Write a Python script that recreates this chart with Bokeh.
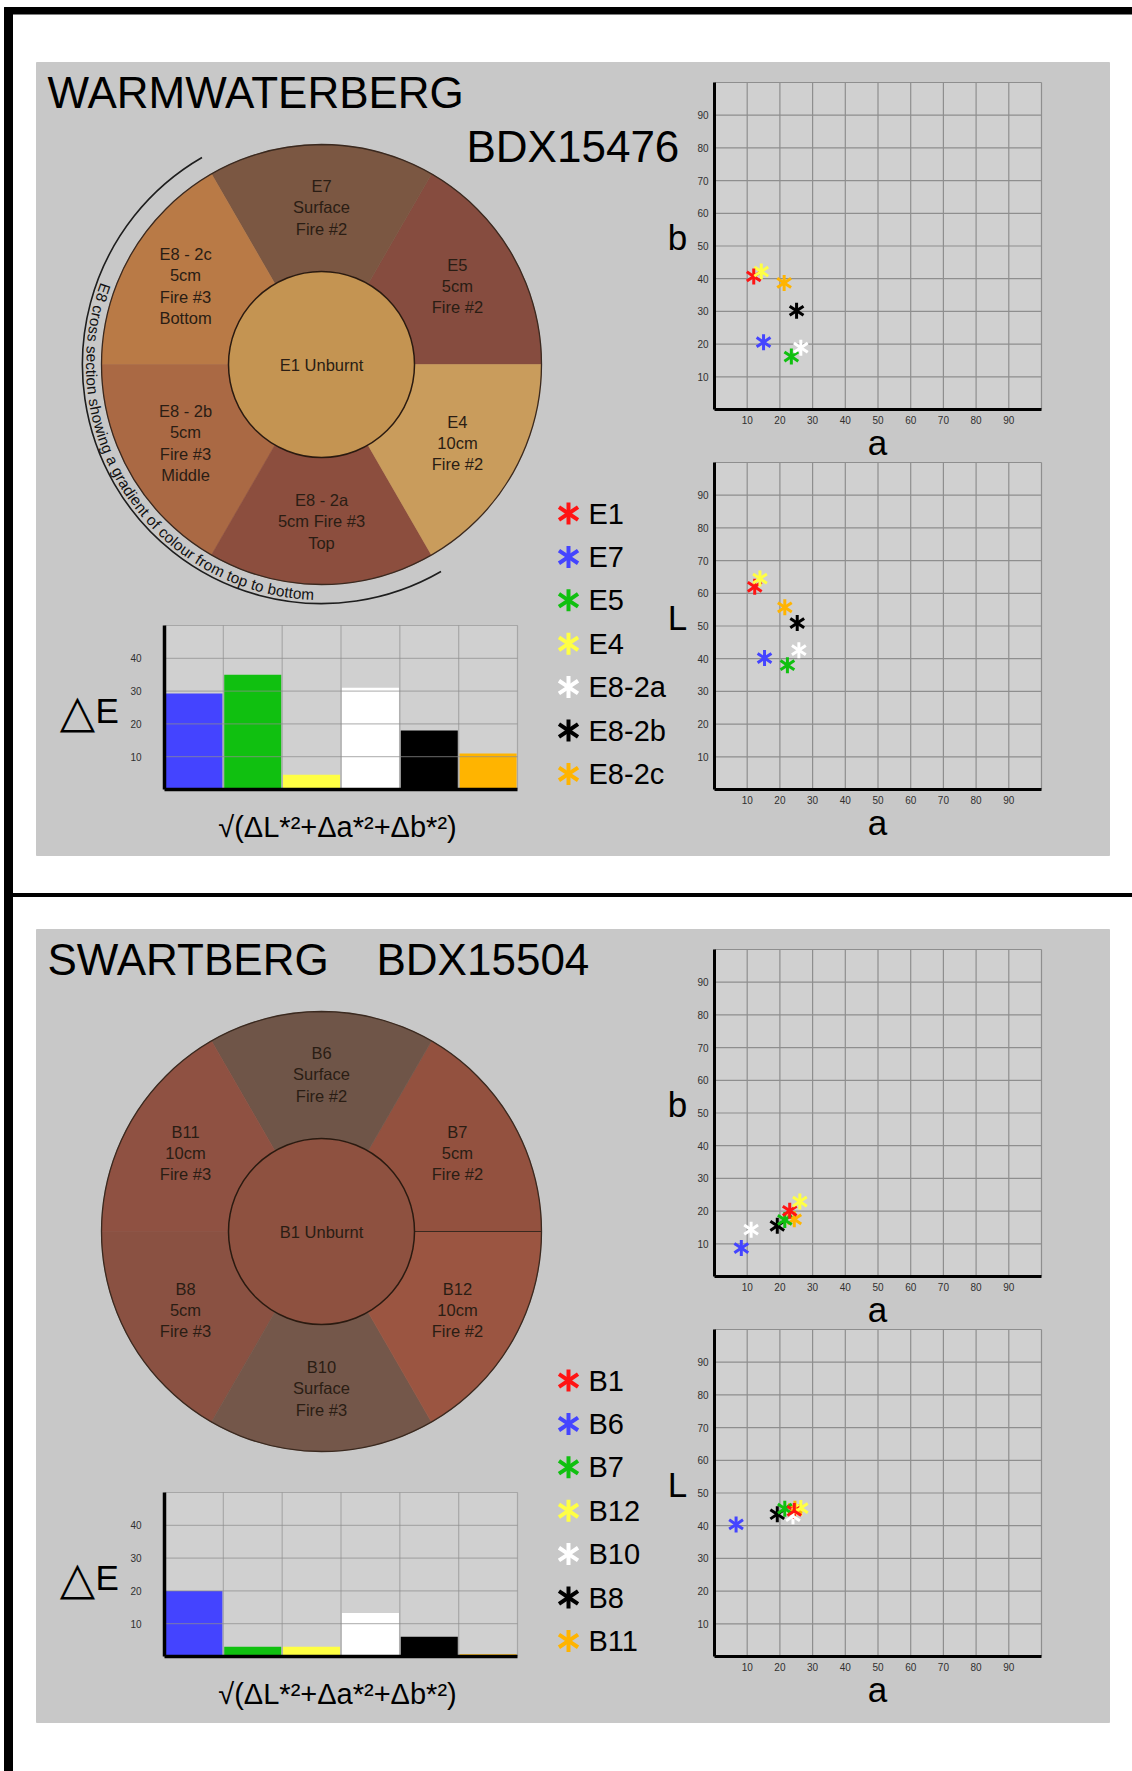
import math
from bokeh.plotting import figure
from bokeh.models import Range1d, LinearAxis, FixedTicker
from bokeh.embed import file_html
from bokeh.resources import INLINE
from bokeh.core.properties import value

# ---------------- data ----------------
panel_titles = ["WARMWATERBERG", "SWARTBERG"]
panel_codes = ["BDX15476", "BDX15504"]

top_samples = ["E1", "E7", "E5", "E4", "E8-2a", "E8-2b", "E8-2c"]
top_a_bplot = [12.0, 15.0, 23.5, 14.3, 26.4, 25.1, 21.3]
top_b = [40.7, 20.6, 16.2, 42.2, 18.9, 30.2, 38.7]
top_a_Lplot = [12.3, 15.3, 22.3, 13.9, 25.8, 25.3, 21.5]
top_L = [62.0, 40.2, 38.0, 64.5, 42.6, 50.9, 55.7]
top_dE = [29.3, 35.0, 4.5, 31.0, 18.0, 11.0]          # E7, E5, E4, E8-2a, E8-2b, E8-2c vs E1

bot_samples = ["B1", "B6", "B7", "B12", "B10", "B8", "B11"]
bot_a_bplot = [23.0, 8.2, 21.5, 26.1, 11.2, 19.2, 24.4]
bot_b = [20.1, 8.7, 17.3, 22.9, 14.3, 15.5, 17.5]
bot_a_Lplot = [24.4, 6.6, 21.5, 26.4, 24.0, 19.2, 24.6]
bot_L = [44.5, 40.4, 45.2, 45.4, 42.9, 43.5, 45.2]
bot_dE = [20.0, 3.0, 3.0, 13.3, 6.0, 0.7]             # B6, B7, B12, B10, B8, B11 vs B1

sample_colors = ["#ff1414", "#4444ff", "#10c010", "#ffff44", "#ffffff", "#000000", "#ffb400"]

# ring segments, counter-clockwise from 3 o'clock
top_ring_text = ["E5\n5cm\nFire #2", "E7\nSurface\nFire #2", "E8 - 2c\n5cm\nFire #3\nBottom",
                 "E8 - 2b\n5cm\nFire #3\nMiddle", "E8 - 2a\n5cm Fire #3\nTop", "E4\n10cm\nFire #2"]
top_ring_colors = ["#864c3f", "#7b5742", "#b97a46", "#aa6944", "#8c4e3e", "#c99c5c"]
top_center_text = "E1 Unburnt"
top_center_color = "#c49452"

bot_ring_text = ["B7\n5cm\nFire #2", "B6\nSurface\nFire #2", "B11\n10cm\nFire #3",
                 "B8\n5cm\nFire #3", "B10\nSurface\nFire #3", "B12\n10cm\nFire #2"]
bot_ring_colors = ["#93513f", "#6f5548", "#8f5142", "#8a5142", "#74574a", "#9b5541"]
bot_center_text = "B1 Unburnt"
bot_center_color = "#8e5140"

arc_caption = "E8 cross section showing a gradient of colour from top to bottom"
scatter_ticks = [10, 20, 30, 40, 50, 60, 70, 80, 90]
bar_ticks = [10, 20, 30, 40]
dE_label = "\u25B3"
formula_label = "\u221A(\u0394L*\u00B2+\u0394a*\u00B2+\u0394b*\u00B2)"

# ---------------- layout helpers ----------------
FONT_NAME = "Liberation Sans"
FONT = value(FONT_NAME)
REF_H = 1771
FX0, FX1 = 0, 1132
FY_TOP, FY_BOT = 0, 1771


def Y(yref):
    return REF_H - yref


def xr(px0, px1, v0, v1):
    k = (v1 - v0) / (px1 - px0)
    return Range1d(start=v0 - (px0 - FX0) * k, end=v1 + (FX1 - px1) * k)


def yr(py0, py1, v0, v1):
    k = (v1 - v0) / (py0 - py1)
    return Range1d(start=v0 - (FY_BOT - py0) * k, end=v1 + (py1 - FY_TOP) * k)


p = figure(width=FX1 - FX0, height=FY_BOT - FY_TOP,
           x_range=Range1d(FX0, FX1), y_range=Range1d(Y(FY_BOT), Y(FY_TOP)),
           x_axis_type=None, y_axis_type=None, toolbar_location=None,
           output_backend="svg", min_border=0, outline_line_color=None,
           background_fill_color="white", border_fill_color="white")

PANEL = "#c8c8c8"
PLOTBG = "#d0d0d0"
GRID = "#8e8e8e"

# page frame lines
p.quad(left=4, right=FX1, top=Y(7), bottom=Y(13.5), color="black")
p.quad(left=4, right=12, top=Y(7), bottom=Y(FY_BOT), color="black")
p.quad(left=4, right=FX1, top=Y(893), bottom=Y(896), color="black")


def asterisks(xs, ys, colors, size, lw, **kw):
    p.scatter(x=xs, y=ys, marker="y", size=size, line_color=colors, line_width=lw, **kw)
    p.scatter(x=xs, y=ys, marker="y", angle=math.pi, size=size, line_color=colors,
              line_width=lw, **kw)


def scatter_plot(name, py_bottom, py_top, xs, ys, order, label):
    nx, ny = name + "x", name + "y"
    p.extra_x_ranges[nx] = xr(714, 1041, 0, 100)
    p.extra_y_ranges[ny] = yr(py_bottom, py_top, 0, 100)
    kw = dict(x_range_name=nx, y_range_name=ny)
    p.quad(left=0, right=100, bottom=0, top=100, fill_color=PLOTBG, line_color=None, **kw)
    gl = scatter_ticks + [100]
    p.segment(x0=gl, y0=[0] * len(gl), x1=gl, y1=[100] * len(gl), line_color=GRID,
              line_width=1.2, **kw)
    p.segment(x0=[0] * len(gl), y0=gl, x1=[100] * len(gl), y1=gl, line_color=GRID,
              line_width=1.2, **kw)
    for side in ("left", "below"):
        ax = LinearAxis(fixed_location=0, bounds=(0, 100), ticker=FixedTicker(ticks=scatter_ticks),
                        axis_line_width=3, axis_line_color="black",
                        major_tick_in=0, major_tick_out=0, major_tick_line_color=None,
                        minor_tick_line_color=None, major_label_text_font=FONT_NAME,
                        major_label_text_font_size="10px", major_label_text_color="#303030",
                        major_label_standoff=6, **kw)
        p.add_layout(ax, side)
    asterisks([xs[i] for i in order], [ys[i] for i in order],
              [sample_colors[i] for i in order], 16, 3, **kw)
    # axis titles
    p.text(x=[877], y=[Y(py_bottom + 33)], text=["a"], text_font=FONT, text_font_size="35px",
           text_align="center", text_baseline="middle", text_color="black")
    p.text(x=[677], y=[Y((py_bottom + py_top) / 2 - 9)], text=[label], text_font=FONT,
           text_font_size="35px", text_align="center", text_baseline="middle",
           text_color="black")


def bar_plot(name, py_bottom, py_top, vals):
    nx, ny = name + "x", name + "y"
    p.extra_x_ranges[nx] = xr(164, 517, 0, 6)
    p.extra_y_ranges[ny] = yr(py_bottom, py_top, 0, 50)
    kw = dict(x_range_name=nx, y_range_name=ny)
    n = len(vals)
    p.quad(left=0, right=n, bottom=0, top=50, fill_color=PLOTBG, line_color=None, **kw)
    p.vbar(x=[i + 0.5 for i in range(n)], top=vals, width=0.97, bottom=0,
           fill_color=sample_colors[1:], line_color=None, **kw)
    hl = bar_ticks + [50]
    p.segment(x0=[0] * len(hl), y0=hl, x1=[n] * len(hl), y1=hl, line_color=GRID,
              line_alpha=0.6, line_width=1.2, **kw)
    vl = list(range(1, n + 1))
    p.segment(x0=vl, y0=[0] * n, x1=vl, y1=[50] * n, line_color=GRID, line_alpha=0.6,
              line_width=1.2, **kw)
    ay = LinearAxis(fixed_location=0, bounds=(0, 50), ticker=FixedTicker(ticks=bar_ticks),
                    axis_line_width=3.5, axis_line_color="black", major_tick_in=0,
                    major_tick_out=0, major_tick_line_color=None, minor_tick_line_color=None,
                    major_label_text_font=FONT_NAME, major_label_text_font_size="10px",
                    major_label_text_color="#303030", major_label_standoff=23, **kw)
    p.add_layout(ay, "left")
    ax = LinearAxis(fixed_location=0, bounds=(0, n), ticker=FixedTicker(ticks=[]),
                    axis_line_width=3.5, axis_line_color="black", major_tick_line_color=None,
                    minor_tick_line_color=None, major_label_text_font_size="0px", **kw)
    p.add_layout(ax, "below")
    # titles
    p.text(x=[77], y=[Y(py_bottom - 79)], text=[dE_label], text_font=value("DejaVu Sans"),
           text_font_size="46px", text_align="center", text_baseline="middle", text_color="black")
    p.text(x=[95], y=[Y(py_bottom - 79)], text=["E"], text_font=FONT, text_font_size="35px",
           text_align="left", text_baseline="middle", text_color="black")
    p.text(x=[337], y=[Y(py_bottom + 37)], text=[formula_label], text_font=FONT,
           text_font_size="29px", text_align="center", text_baseline="middle", text_color="black")


def ring(cy_ref, texts, colors, center_text, center_color, radial_line):
    cx, cy = 321, Y(cy_ref)
    R, r = 220, 93
    n = len(texts)
    starts = [2 * math.pi * i / n for i in range(n)]
    ends = [2 * math.pi * (i + 1) / n for i in range(n)]
    p.annular_wedge(x=cx, y=cy, inner_radius=r, outer_radius=R, start_angle=starts,
                    end_angle=ends, fill_color=colors, line_color=colors, line_width=0.6)
    p.circle(x=[cx], y=[cy], radius=R, fill_color=None, line_color="#3a291f", line_width=1.3)
    if radial_line:
        p.segment(x0=[cx + r], y0=[cy], x1=[cx + R], y1=[cy], line_color="#3a291f",
                  line_width=1)
    p.circle(x=[cx], y=[cy], radius=r, fill_color=center_color, line_color="#2a1a10",
             line_width=1.5)
    mids = [(a + b) / 2 for a, b in zip(starts, ends)]
    p.text(x=[cx + 157 * math.cos(m) for m in mids], y=[cy + 157 * math.sin(m) for m in mids],
           text=texts, text_font=FONT, text_font_size="16.5px", text_align="center",
           text_baseline="middle", text_color="#2a1d14", text_line_height=1.17)
    p.text(x=[cx], y=[cy], text=[center_text], text_font=FONT, text_font_size="16.5px",
           text_align="center", text_baseline="middle", text_color="#2a1d14")
    return cx, cy


def legend(top_ref, names):
    ys = [Y(top_ref + 43.4 * i) for i in range(len(names))]
    asterisks([568] * len(names), ys, sample_colors, 22, 4)
    p.text(x=[588] * len(names), y=ys, text=names, text_font=FONT, text_font_size="29px",
           text_align="left", text_baseline="middle", text_color="black")


CHAR_W = {" ": 278, "E": 667, "8": 556, "c": 500, "r": 333, "o": 556, "s": 500, "e": 556,
          "t": 278, "i": 222, "n": 556, "h": 556, "w": 722, "g": 556, "a": 556, "d": 556,
          "f": 278, "l": 222, "u": 556, "m": 833, "p": 556, "b": 556}


def curved_caption(cx, cy, text):
    fs = 15.3
    rt = 230
    # arc line
    p.arc(x=[cx], y=[cy], radius=239, start_angle=math.radians(120),
          end_angle=math.radians(300), line_color="#1e1e1e", line_width=1.6)
    th = math.radians(159.5)
    xs, ys, angs = [], [], []
    for ch in text:
        w = CHAR_W.get(ch, 556) / 1000 * fs
        t = th + (w / 2) / rt
        xs.append(cx + rt * math.cos(t))
        ys.append(cy + rt * math.sin(t))
        angs.append(t + math.pi / 2)
        th += w / rt
    p.text(x=xs, y=ys, text=list(text), angle=angs, text_font=FONT,
           text_font_size=f"{fs}px", text_align="center", text_baseline="middle",
           text_color="#111111")


panels = [
    dict(D=0, title=panel_titles[0], code=panel_codes[0], code_x=466, names=top_samples,
         a_b=top_a_bplot, b=top_b, a_L=top_a_Lplot, L=top_L, dE=top_dE,
         ring_text=top_ring_text, ring_colors=top_ring_colors, ctext=top_center_text,
         ccolor=top_center_color, order=[0, 1, 2, 3, 4, 5, 6], caption=True, code_mid=146),
    dict(D=867, title=panel_titles[1], code=panel_codes[1], code_x=376, names=bot_samples,
         a_b=bot_a_bplot, b=bot_b, a_L=bot_a_Lplot, L=bot_L, dE=bot_dE,
         ring_text=bot_ring_text, ring_colors=bot_ring_colors, ctext=bot_center_text,
         ccolor=bot_center_color, order=[1, 4, 5, 6, 2, 3, 0], caption=False, code_mid=959),
]

for k, pn in enumerate(panels):
    D = pn["D"]
    p.quad(left=36, right=1109, top=Y(62 + D), bottom=Y(855 + D), color=PANEL)
    p.text(x=[47], y=[Y(92 + D)], text=[pn["title"]], text_font=FONT, text_font_size="44px",
           text_align="left", text_baseline="middle", text_color="black")
    p.text(x=[pn["code_x"]], y=[Y(pn["code_mid"])], text=[pn["code"]], text_font=FONT,
           text_font_size="44px", text_align="left", text_baseline="middle",
           text_color="black")
    cx, cy = ring(364 + D, pn["ring_text"], pn["ring_colors"], pn["ctext"], pn["ccolor"],
                  radial_line=not pn["caption"])
    if pn["caption"]:
        curved_caption(cx, cy, arc_caption)
    scatter_plot(f"s{k}b", 409 + D, 82 + D, pn["a_b"], pn["b"], pn["order"], "b")
    scatter_plot(f"s{k}L", 789 + D, 462 + D, pn["a_L"], pn["L"], pn["order"], "L")
    bar_plot(f"bar{k}", 789 + D, 625 + D, pn["dE"])
    legend(513 + D, pn["names"])

open("out.html", "w").write(file_html(p, INLINE))
